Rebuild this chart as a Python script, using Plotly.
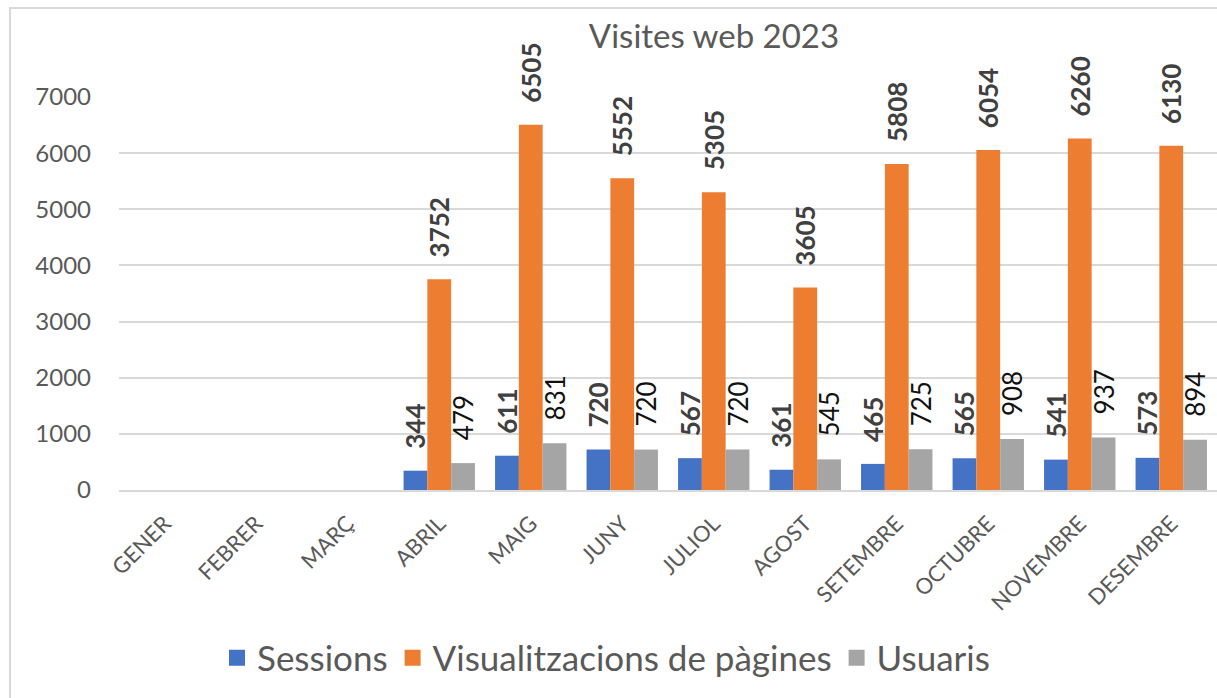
import plotly.graph_objects as go

months = ["GENER", "FEBRER", "MARÇ", "ABRIL", "MAIG", "JUNY", "JULIOL", "AGOST",
          "SETEMBRE", "OCTUBRE", "NOVEMBRE", "DESEMBRE"]
sessions = [None, None, None, 344, 611, 720, 567, 361, 465, 565, 541, 573]
pageviews = [None, None, None, 3752, 6505, 5552, 5305, 3605, 5808, 6054, 6260, 6130]
users = [None, None, None, 479, 831, 720, 720, 545, 725, 908, 937, 894]

series = [
    ("Sessions", sessions, "#4472C4", True, "#404040"),
    ("Visualitzacions de pàgines", pageviews, "#ED7D31", True, "#404040"),
    ("Usuaris", users, "#A5A5A5", False, "#111111"),
]

FONT = "Lato"
GAP = "\u00a0\u00a0\u00a0"
fig = go.Figure()
for name, vals, color, bold, tcolor in series:
    fig.add_trace(go.Bar(
        x=months, y=vals, name=name, marker_color=color, marker_line_width=0,
        text=[("" if v is None else GAP + str(v)) for v in vals],
        textposition="outside", textangle=-90, cliponaxis=False,
        constraintext="none",
        textfont=dict(family=FONT, size=26, color=tcolor,
                      weight="bold" if bold else "normal"),
        showlegend=False, hoverinfo="skip",
    ))
# legend entries with larger square markers
for name, vals, color, bold, tcolor in series:
    fig.add_trace(go.Scatter(
        x=[None], y=[None], mode="markers", name=name,
        marker=dict(symbol="square", size=24, color=color),
    ))

W, H = 1217, 698
L, R, T, B = 119, 0, 97, 208
pw, ph = W - L - R, H - T - B

def px_x(px):
    return (px - L) / pw

def px_y(py):
    return (H - B - py) / ph

fig.update_layout(
    width=W, height=H,
    margin=dict(l=L, r=R, t=T, b=B, pad=0, autoexpand=False),
    paper_bgcolor="white", plot_bgcolor="white",
    barmode="group", bargap=0.22, bargroupgap=0,
    font=dict(family=FONT, color="#595959"),
    title=dict(text="Visites web 2023", x=714 / W, xref="container", xanchor="center",
               y=1 - 36 / H, yref="container", yanchor="middle",
               font=dict(family=FONT, size=33, color="#595959")),
    legend=dict(orientation="h", x=px_x(606), xanchor="center", y=px_y(658), yanchor="middle",
                font=dict(family=FONT, size=35, color="#595959"),
                itemsizing="trace", tracegroupgap=0, itemwidth=30),
    shapes=[dict(type="rect", xref="paper", yref="paper",
                 x0=px_x(10), x1=px_x(1230), y0=px_y(8), y1=px_y(720),
                 line=dict(color="#D9D9D9", width=2), fillcolor="rgba(0,0,0,0)", layer="below")],
)
fig.update_xaxes(
    range=[-0.5, 11.5], tickangle=-45, showgrid=False,
    showline=True, linecolor="#D9D9D9", linewidth=2,
    tickfont=dict(family=FONT, size=22, color="#595959"),
    ticks="", ticklabelstandoff=10, fixedrange=True, automargin=False,
)
fig.update_yaxes(
    range=[0, 7000], dtick=1000, showgrid=True, gridcolor="#D9D9D9", gridwidth=2,
    zeroline=False, showline=False,
    tickfont=dict(family=FONT, size=24, color="#595959"),
    ticks="", ticklabelstandoff=27, fixedrange=True, automargin=False,
)

fig.write_html("out.html", config={"displayModeBar": False},
               post_script="document.body.style.margin='0';document.body.style.overflow='hidden';")
